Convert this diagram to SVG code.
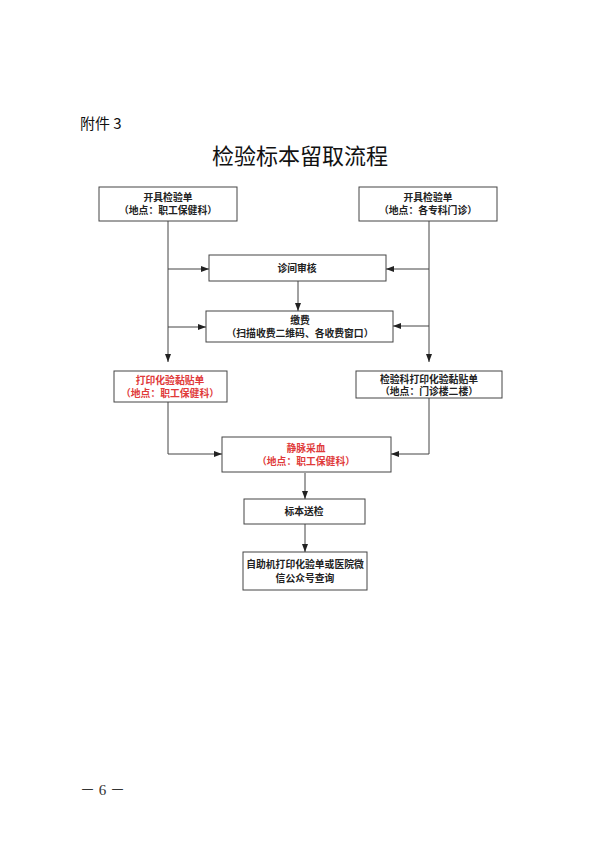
<svg xmlns="http://www.w3.org/2000/svg" width="600" height="849" viewBox="0 0 600 849">
<defs>
<marker id="ah" markerWidth="8" markerHeight="6" refX="8" refY="3" orient="auto" markerUnits="userSpaceOnUse">
<path d="M0,0 L8,3 L0,6 Z" fill="#222"/>
</marker>
<style>
.box{fill:#fff;stroke:#444;stroke-width:1}
.t{font-family:"Liberation Serif","Noto Sans CJK SC",serif;font-size:9.8px;font-weight:bold;fill:#222;text-anchor:middle}
.r{fill:#e03a3a}
.ln{fill:none;stroke:#444;stroke-width:1}
</style>
</defs>
<rect width="600" height="849" fill="#fff"/>
<text x="80" y="129" font-family="'Noto Sans CJK SC',sans-serif" font-size="15" fill="#111">附件 3</text>
<text x="300" y="164" font-family="'Noto Sans CJK SC',sans-serif" font-size="22" fill="#111" text-anchor="middle">检验标本留取流程</text>

<g id="connectors">
<path class="ln" d="M168,221 V362" marker-end="url(#ah)"/>
<path class="ln" d="M429,221 V362" marker-end="url(#ah)"/>
<path class="ln" d="M168,269 H209" marker-end="url(#ah)"/>
<path class="ln" d="M429,269 H386" marker-end="url(#ah)"/>
<path class="ln" d="M298,281 V311" marker-end="url(#ah)"/>
<path class="ln" d="M168,327 H206" marker-end="url(#ah)"/>
<path class="ln" d="M429,326 H393" marker-end="url(#ah)"/>
<path class="ln" d="M168,402 V454 H222" marker-end="url(#ah)"/>
<path class="ln" d="M429,398 V454 H391" marker-end="url(#ah)"/>
<path class="ln" d="M305,473 V499" marker-end="url(#ah)"/>
<path class="ln" d="M305,524 V552" marker-end="url(#ah)"/>
</g>

<g id="n1"><rect class="box" x="99" y="187" width="138" height="34"/>
<text class="t" x="168" y="201">开具检验单</text><text class="t" x="168" y="214">（地点：职工保健科）</text></g>
<g id="n2"><rect class="box" x="359" y="187" width="138" height="34"/>
<text class="t" x="428" y="201">开具检验单</text><text class="t" x="428" y="214">（地点：各专科门诊）</text></g>
<g id="n3"><rect class="box" x="209" y="255" width="177" height="26"/>
<text class="t" x="297" y="272">诊间审核</text></g>
<g id="n4"><rect class="box" x="206" y="311" width="187" height="31"/>
<text class="t" x="300" y="324">缴费</text><text class="t" x="300" y="337">（扫描收费二维码、各收费窗口）</text></g>
<g id="n5"><rect class="box" x="114" y="371" width="113" height="31"/>
<text class="t r" x="170" y="384">打印化验黏贴单</text><text class="t r" x="170" y="397">（地点：职工保健科）</text></g>
<g id="n6"><rect class="box" x="356" y="371" width="146" height="27"/>
<text class="t" x="429" y="383">检验科打印化验黏贴单</text><text class="t" x="429" y="395">（地点：门诊楼二楼）</text></g>
<g id="n7"><rect class="box" x="222" y="437" width="169" height="35"/>
<text class="t r" x="306" y="452">静脉采血</text><text class="t r" x="306" y="465">（地点：职工保健科）</text></g>
<g id="n8"><rect class="box" x="244" y="499" width="121" height="25"/>
<text class="t" x="304" y="515">标本送检</text></g>
<g id="n9"><rect class="box" x="243" y="552" width="124" height="38"/>
<text class="t" x="305" y="568">自助机打印化验单或医院微</text><text class="t" x="305" y="582">信公众号查询</text></g>

<text x="80" y="795" font-family="'Liberation Serif','Noto Sans CJK SC',serif" font-size="15" fill="#333">－ 6 －</text>
</svg>
